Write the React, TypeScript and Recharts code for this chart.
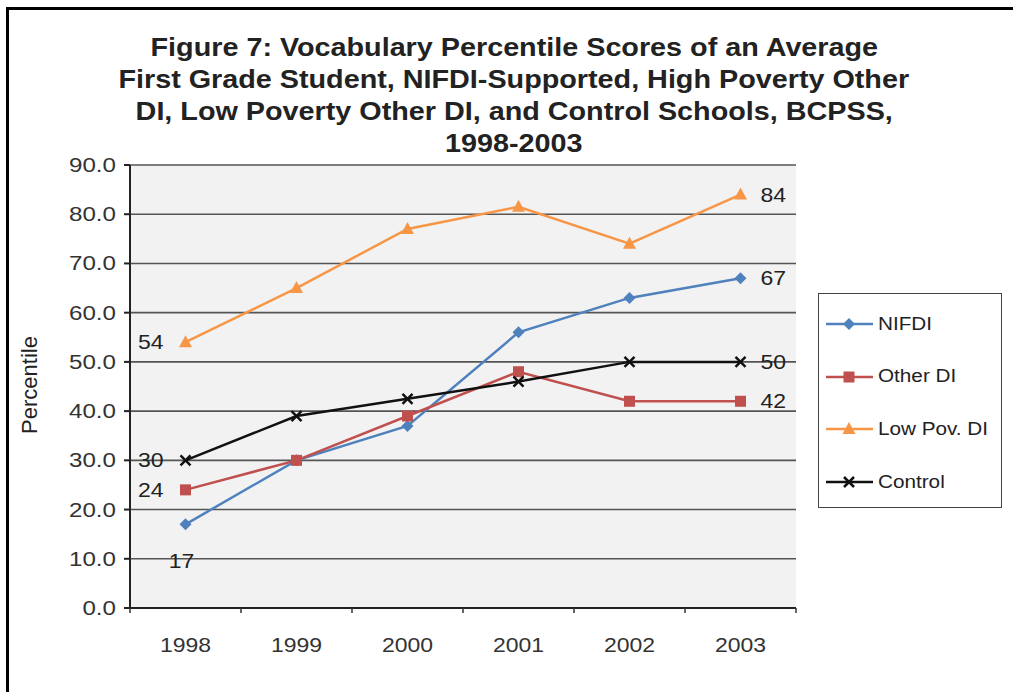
import { CartesianGrid, LabelList, Line, LineChart, XAxis, YAxis } from 'recharts';

const years = ['1998', '1999', '2000', '2001', '2002', '2003'];
const nifdi = [17, 30, 37, 56, 63, 67];
const otherDi = [24, 30, 39, 48, 42, 42];
const lowPovDi = [54, 65, 77, 81.5, 74, 84];
const control = [30, 39, 42.5, 46, 50, 50];
const yTicks = [0, 10, 20, 30, 40, 50, 60, 70, 80, 90];

const titleLines = [
  'Figure 7: Vocabulary Percentile Scores of an Average',
  'First Grade Student, NIFDI-Supported, High Poverty Other',
  'DI, Low Poverty Other DI, and Control Schools, BCPSS,',
  '1998-2003',
];

type SeriesDef = {
  key: string;
  name: string;
  values: number[];
  color: string;
  marker: 'diamond' | 'square' | 'triangle' | 'x';
  // which points get a value label, and on which side
  labels: Record<number, 'left' | 'right' | 'below'>;
};

const series: SeriesDef[] = [
  { key: 'nifdi', name: 'NIFDI', values: nifdi, color: '#4f81bd', marker: 'diamond', labels: { 0: 'below', 5: 'right' } },
  { key: 'other', name: 'Other DI', values: otherDi, color: '#c0504d', marker: 'square', labels: { 0: 'left', 5: 'right' } },
  { key: 'lowpov', name: 'Low Pov. DI', values: lowPovDi, color: '#f79646', marker: 'triangle', labels: { 0: 'left', 5: 'right' } },
  { key: 'control', name: 'Control', values: control, color: '#111111', marker: 'x', labels: { 0: 'left', 5: 'right' } },
];

const data = years.map((year, i) => {
  const row: Record<string, string | number> = { year };
  series.forEach((s) => {
    row[s.key] = s.values[i];
  });
  return row;
});

const FONT = 'Arial, "Liberation Sans", sans-serif';
// the source picture is stretched sideways a little; text follows suit
const STRETCH = 1.15;
const HALF_BAND = 55.5;

function SText({ x, y, anchor, size, fill = '#333', children }: any) {
  return (
    <text
      x={0}
      y={0}
      textAnchor={anchor}
      fontFamily={FONT}
      fontSize={size}
      fill={fill}
      transform={`translate(${x},${y}) scale(${STRETCH},1)`}
    >
      {children}
    </text>
  );
}

function Marker({ cx, cy, kind, color }: { cx: number; cy: number; kind: SeriesDef['marker']; color: string }) {
  if (cx == null || cy == null) return null;
  if (kind === 'diamond')
    return <polygon points={`${cx},${cy - 6} ${cx + 6},${cy} ${cx},${cy + 6} ${cx - 6},${cy}`} fill={color} />;
  if (kind === 'square') return <rect x={cx - 5.5} y={cy - 5.5} width={11} height={11} fill={color} />;
  if (kind === 'triangle')
    return <polygon points={`${cx},${cy - 7} ${cx + 6.5},${cy + 5} ${cx - 6.5},${cy + 5}`} fill={color} />;
  return (
    <g stroke={color} strokeWidth={2.5}>
      <line x1={cx - 5} y1={cy - 5} x2={cx + 5} y2={cy + 5} />
      <line x1={cx - 5} y1={cy + 5} x2={cx + 5} y2={cy - 5} />
    </g>
  );
}

function makeLabel(s: SeriesDef) {
  return (props: any) => {
    const { x, y, value, index } = props;
    const side = s.labels[index];
    if (!side) return null;
    const text = String(Math.round(Number(value)));
    if (side === 'left')
      return (
        <SText x={x - 22} y={y + 7} anchor="end" size={20} fill="#222">
          {text}
        </SText>
      );
    if (side === 'right')
      return (
        <SText x={x + 20} y={y + 7} anchor="start" size={20} fill="#222">
          {text}
        </SText>
      );
    return (
      <SText x={x - 4} y={y + 44} anchor="middle" size={20} fill="#222">
        {text}
      </SText>
    );
  };
}

function XTick(props: any) {
  const { x, y, payload, index } = props;
  const last = index === years.length - 1;
  return (
    <g>
      <line x1={x - HALF_BAND} y1={y - 8} x2={x - HALF_BAND} y2={y - 3} stroke="#333" strokeWidth={1.5} />
      {last && <line x1={x + HALF_BAND} y1={y - 8} x2={x + HALF_BAND} y2={y - 3} stroke="#333" strokeWidth={1.5} />}
      <SText x={x} y={y + 36} anchor="middle" size={20}>
        {payload.value}
      </SText>
    </g>
  );
}

function YTick(props: any) {
  const { x, y, payload } = props;
  return (
    <SText x={x - 6} y={y + 7} anchor="end" size={21}>
      {Number(payload.value).toFixed(1)}
    </SText>
  );
}

function LegendBox() {
  return (
    <div
      style={{
        position: 'absolute',
        left: 818,
        top: 293,
        width: 184,
        height: 215,
        border: '1px solid #444',
        background: '#fff',
        boxSizing: 'border-box',
      }}
    >
      {series.map((s, i) => (
        <div
          key={s.key}
          style={{
            position: 'absolute',
            left: 5,
            top: 19 + i * 52.7,
            height: 22,
            display: 'flex',
            alignItems: 'center',
            fontFamily: FONT,
            fontSize: 18,
            color: '#222',
            whiteSpace: 'nowrap',
          }}
        >
          <svg width={50} height={22} style={{ display: 'block' }}>
            <line x1={2} y1={11} x2={49} y2={11} stroke={s.color} strokeWidth={2.5} />
            <Marker cx={25} cy={11} kind={s.marker} color={s.color} />
          </svg>
          <span style={{ marginLeft: 4, display: 'inline-block', transform: `scaleX(${STRETCH})`, transformOrigin: 'left center' }}>
            {s.name}
          </span>
        </div>
      ))}
    </div>
  );
}

export default function App() {
  return (
    <div style={{ position: 'absolute', left: 0, top: 0, width: 1013, height: 692, background: '#fff', overflow: 'hidden' }}>
      {/* frame */}
      <div style={{ position: 'absolute', left: 6, top: 7, width: 1020, height: 700, borderTop: '3px solid #000', borderLeft: '3px solid #000' }} />
      {titleLines.map((t, i) => (
        <div
          key={i}
          style={{
            position: 'absolute',
            left: 0,
            width: 1028,
            top: 31 + i * 32,
            textAlign: 'center',
            lineHeight: '32px',
          }}
        >
          <span
            style={{
              display: 'inline-block',
              fontFamily: FONT,
              fontWeight: 'bold',
              fontSize: 25,
              color: '#222',
              transform: `scaleX(${STRETCH})`,
            }}
          >
            {t}
          </span>
        </div>
      ))}
      <div style={{ position: 'absolute', left: 30, top: 385, width: 0, height: 0 }}>
        <div
          style={{
            position: 'absolute',
            transform: 'translate(-50%, -50%) rotate(-90deg)',
            left: 0,
            top: 0,
            fontFamily: FONT,
            fontSize: 22,
            color: '#222',
            whiteSpace: 'nowrap',
          }}
        >
          Percentile
        </div>
      </div>
      <div style={{ position: 'absolute', left: 0, top: 0 }}>
        <LineChart width={1013} height={692} data={data} margin={{ top: 165, right: 217, bottom: 54, left: 0 }}>
          <CartesianGrid vertical={false} fill="#f2f2f2" stroke="#555" strokeWidth={1.6} />
          <XAxis
            dataKey="year"
            height={30}
            stroke="#222"
            strokeWidth={2}
            tickLine={false}
            padding={{ left: HALF_BAND, right: HALF_BAND }}
            tick={<XTick />}
            interval={0}
          />
          <YAxis
            width={130}
            domain={[0, 90]}
            ticks={yTicks}
            interval={0}
            stroke="#222"
            strokeWidth={2}
            tickSize={6}
            tick={<YTick />}
          />
          {series.map((s) => (
            <Line
              key={s.key}
              dataKey={s.key}
              name={s.name}
              stroke={s.color}
              strokeWidth={2.5}
              isAnimationActive={false}
              dot={(p: any) => <Marker key={`${s.key}-${p.index}`} cx={p.cx} cy={p.cy} kind={s.marker} color={s.color} />}
              activeDot={false}
            >
              <LabelList dataKey={s.key} content={makeLabel(s)} />
            </Line>
          ))}
        </LineChart>
      </div>
      <LegendBox />
    </div>
  );
}
